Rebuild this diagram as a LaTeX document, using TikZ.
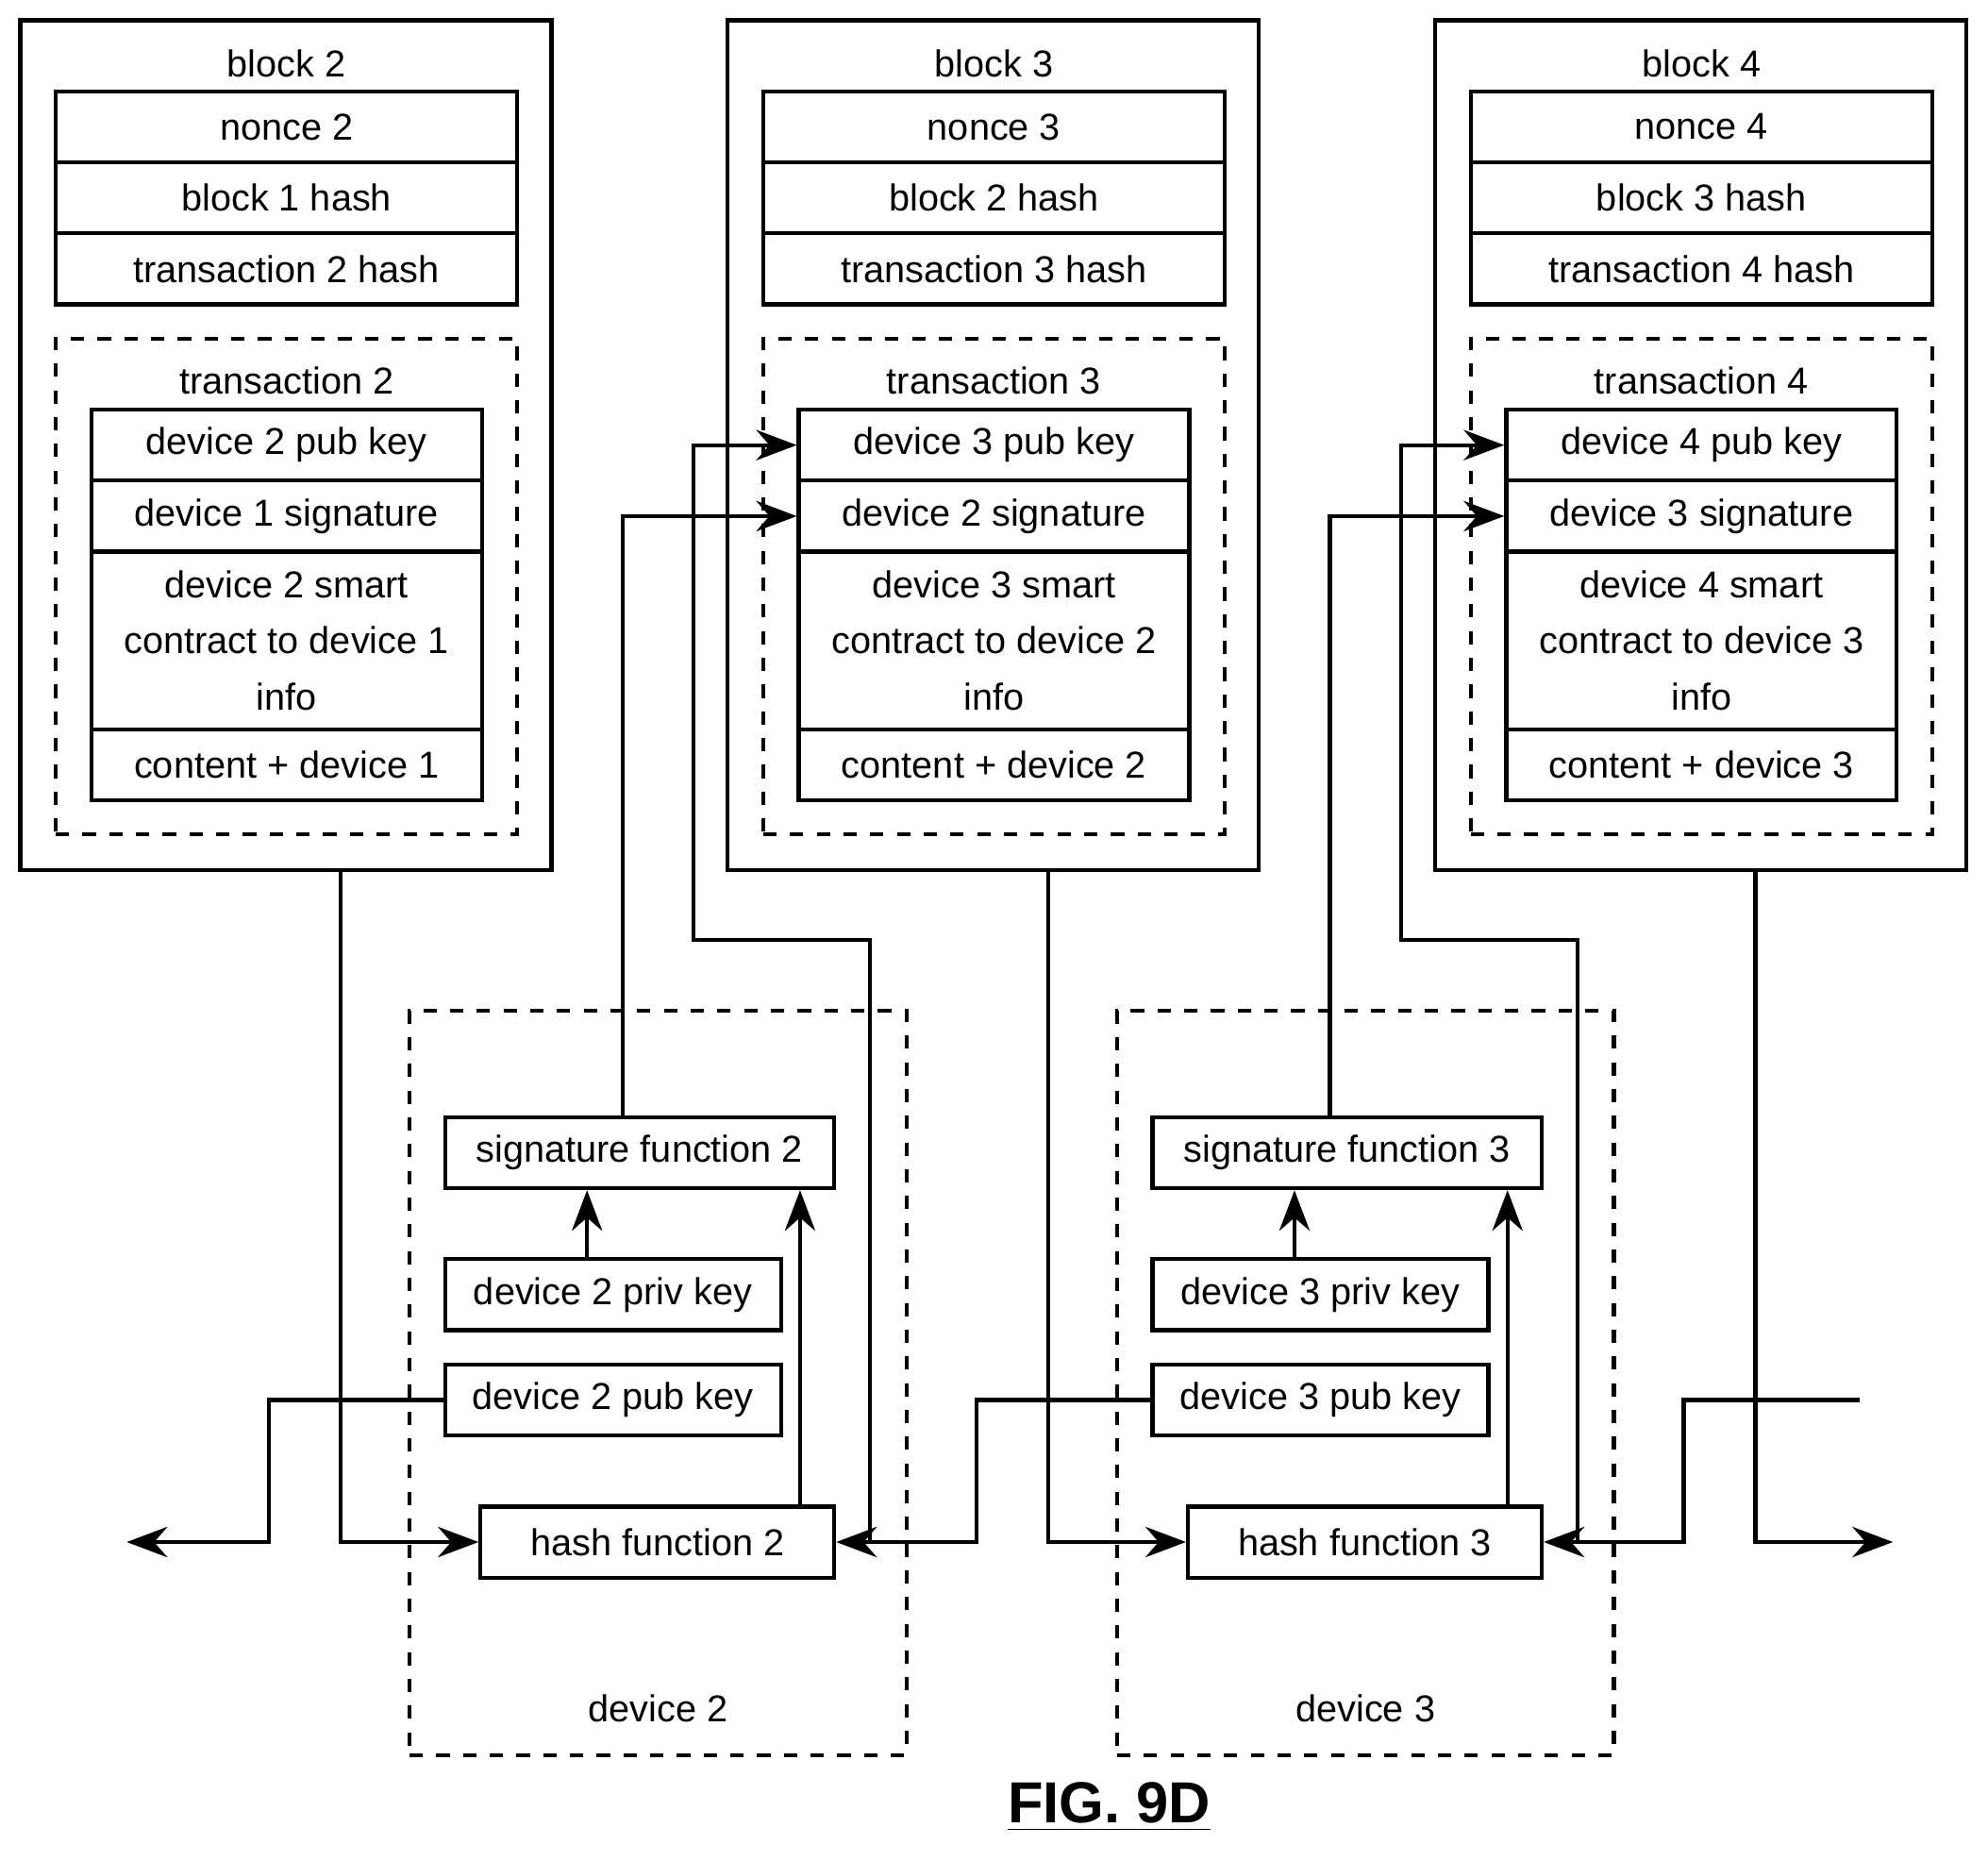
\documentclass[tikz,border=0pt]{standalone}
\usepackage{fontspec}
\setmainfont{Liberation Sans}
\usetikzlibrary{arrows.meta}

\tikzset{
  row/.style={draw, line width=0.9pt, minimum width=3.64cm, minimum height=0.56cm, inner sep=0pt},
  irow/.style={row, minimum width=3.08cm},
  fn/.style={row},
  dbox/.style={draw, dashed, line width=0.9pt, inner sep=0pt},
  conn/.style={line width=0.9pt, -{Stealth[length=3.2mm,width=2.4mm]}},
  wire/.style={line width=0.9pt}
}

\begin{document}
\begin{tikzpicture}[font=\fontsize{8.4}{10.4}\selectfont]
\useasboundingbox (0,0) rectangle (15.68,-14.67);

% blocks
\foreach \n/\p/\c in {2/1/0, 3/2/5.58, 4/3/11.16}{
  \node[draw, line width=0.9pt, minimum width=4.19cm, minimum height=6.70cm] (b\n) at (2.255+\c,-3.51) {};
  \node (bt\n) at (2.26+\c,-0.50) {block \n};
  \node[row] (n\n) at (2.26+\c,-1.00) {nonce \n};
  \node[row] (bh\n) at (2.26+\c,-1.56) {block \p\ hash};
  \node[row] (th\n) at (2.26+\c,-2.12) {transaction \n\ hash};
  \node[dbox, minimum width=3.64cm, minimum height=3.91cm] (t\n) at (2.26+\c,-4.625) {};
  \node (tt\n) at (2.26+\c,-3.00) {transaction \n};
  \node[irow] (pk\n) at (2.26+\c,-3.51) {device \n\ pub key};
  \node[irow] (ds\n) at (2.26+\c,-4.07) {device \p\ signature};
  \node[irow, minimum height=1.40cm, align=center, font=\fontsize{8.4}{12.6}\selectfont] (sc\n) at (2.26+\c,-5.05) {device \n\ smart\\contract to device \p\\info};
  \node[irow] (ct\n) at (2.26+\c,-6.03) {content + device \p};
}

% devices
\foreach \k/\c in {2/0, 3/5.58}{
  \node[dbox, minimum width=3.92cm, minimum height=5.87cm] (d\k) at (5.19+\c,-10.905) {};
  \node (dl\k) at (5.19+\c,-13.47) {device \k};
  \node[fn, minimum width=3.07cm] (s\k) at (5.045+\c,-9.09) {signature function \k};
  \node[fn, minimum width=2.65cm] (v\k) at (4.835+\c,-10.21) {device \k\ priv key};
  \node[fn, minimum width=2.65cm] (p\k) at (4.835+\c,-11.04) {device \k\ pub key};
  \node[fn, minimum width=2.79cm] (h\k) at (5.185+\c,-12.16) {hash function \k};
  \draw[conn] ([xshift=-2.05mm]v\k.north) -- ([xshift=-2.05mm]v\k.north |- s\k.south);
  \draw[conn] ([xshift=11.25mm]h\k.north) -- ([xshift=11.25mm]h\k.north |- s\k.south);
}

% chain connectors
\coordinate (lft) at (1.00,-12.16);
\coordinate (rgt) at (14.93,-12.16);
\coordinate (pin) at (14.67,-11.04);
\draw[conn] ([xshift=4.3mm]b2.south) |- (h2.west);
\draw[conn] ([xshift=4.3mm]b3.south) |- (h3.west);
\draw[conn] ([xshift=4.3mm]b4.south) |- (rgt);
\draw[conn] (p2.west) -| (2.12,-12.16) -- (lft);
\draw[conn] (p3.west) -| (7.70,-12.16) -- (h2.east);
\draw[conn] (pin) -| (13.28,-12.16) -- (h3.east);
\draw[conn] (6.86,-12.16) |- (5.47,-7.41) |- (pk3.west);
\draw[conn] (12.44,-12.16) |- (11.05,-7.41) |- (pk4.west);
\draw[conn] ([xshift=-1.35mm]s2.north) |- (ds3.west);
\draw[conn] ([xshift=-1.35mm]s3.north) |- (ds4.west);

\node[font=\fontsize{13}{15}\selectfont\bfseries] (fig) at (8.75,-14.25) {\underline{FIG. 9D}};
\end{tikzpicture}
\end{document}
